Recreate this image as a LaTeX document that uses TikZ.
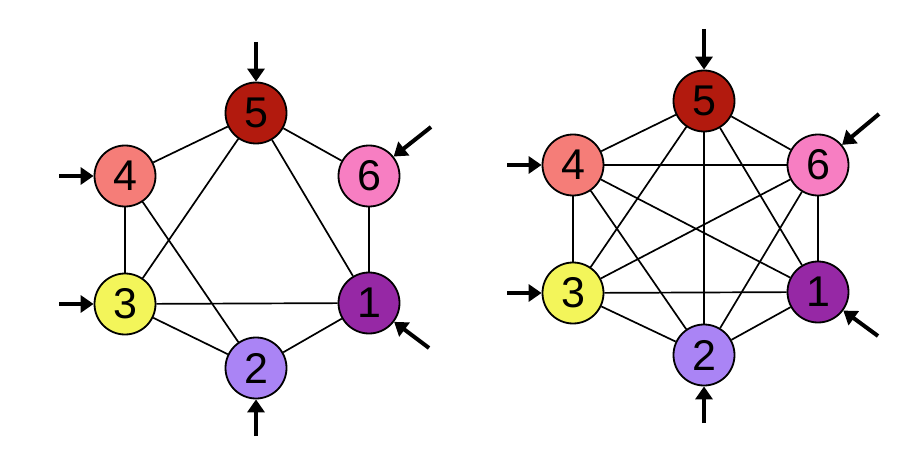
\documentclass[tikz,border=0pt]{standalone}
\usepackage{fontspec}
\setmainfont{Liberation Sans}
\usepackage{xcolor}
\usetikzlibrary{arrows.meta}

\definecolor{cfive}{RGB}{178,26,14}
\definecolor{cfour}{RGB}{245,125,120}
\definecolor{csix}{RGB}{247,126,194}
\definecolor{cthree}{RGB}{243,245,90}
\definecolor{cone}{RGB}{150,40,165}
\definecolor{ctwo}{RGB}{170,132,245}

\begin{document}
\begin{tikzpicture}[
    x=1pt, y=-1pt,
    vertex/.style={circle, draw=black, line width=1.8pt, minimum size=61pt, inner sep=0pt, font=\fontsize{43}{46}\selectfont},
    edge/.style={line width=1.7pt},
    arrow/.style={-{Triangle[length=13pt, width=17pt]}, line width=4pt}
]
    \useasboundingbox (0,0) rectangle (908,468);

    % left graph
    \node[vertex, fill=cfive] (L5) at (256,113) {5};
    \node[vertex, fill=cfour] (L4) at (125,176) {4};
    \node[vertex, fill=csix] (L6) at (369,176) {6};
    \node[vertex, fill=cthree] (L3) at (125,304) {3};
    \node[vertex, fill=cone] (L1) at (369,303) {1};
    \node[vertex, fill=ctwo] (L2) at (256,368) {2};

    \draw[edge] (L5) -- (L4);
    \draw[edge] (L5) -- (L6);
    \draw[edge] (L5) -- (L3);
    \draw[edge] (L5) -- (L1);
    \draw[edge] (L4) -- (L3);
    \draw[edge] (L4) -- (L2);
    \draw[edge] (L6) -- (L1);
    \draw[edge] (L3) -- (L1);
    \draw[edge] (L3) -- (L2);
    \draw[edge] (L2) -- (L1);

    \coordinate (aL5) at (256,42);
    \coordinate (aL4) at (59,176);
    \coordinate (aL3) at (59,304);
    \coordinate (aL6) at (431,127);
    \coordinate (aL1) at (429,348);
    \coordinate (aL2) at (256,436);
    \foreach \n in {1,...,6}
        \draw[arrow] (aL\n) -- (L\n);

    % right graph
    \node[vertex, fill=cfive] (R5) at (704,101) {5};
    \node[vertex, fill=cfour] (R4) at (573,165) {4};
    \node[vertex, fill=csix] (R6) at (818,165) {6};
    \node[vertex, fill=cthree] (R3) at (573,293) {3};
    \node[vertex, fill=cone] (R1) at (818,292) {1};
    \node[vertex, fill=ctwo] (R2) at (704,355) {2};

    \foreach \a/\b in {5/4,5/6,5/3,5/2,5/1,4/6,4/1,4/3,4/2,6/3,6/2,6/1,3/1,3/2,2/1}
        \draw[edge] (R\a) -- (R\b);

    \coordinate (aR5) at (704,29);
    \coordinate (aR4) at (507,165);
    \coordinate (aR3) at (507,293);
    \coordinate (aR6) at (879,114);
    \coordinate (aR1) at (878,336);
    \coordinate (aR2) at (704,423);
    \foreach \n in {1,...,6}
        \draw[arrow] (aR\n) -- (R\n);
\end{tikzpicture}
\end{document}
